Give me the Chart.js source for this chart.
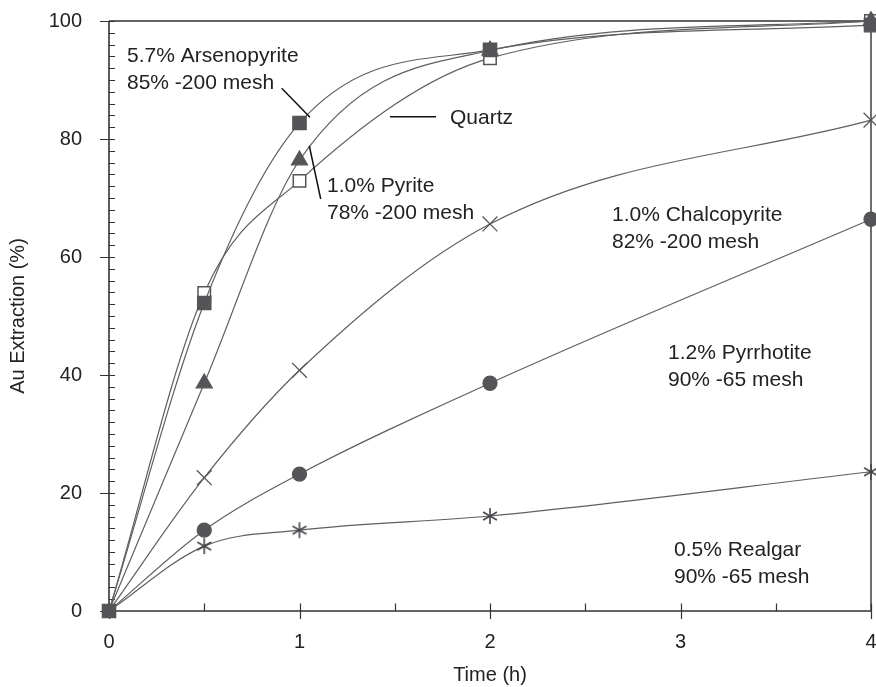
<!DOCTYPE html>
<html>
<head>
<meta charset="utf-8">
<script src="https://cdn.jsdelivr.net/npm/chart.js@4/dist/chart.umd.min.js"></script>
<style>
  html, body { margin: 0; padding: 0; background: #fff; }
  #wrap { width: 876px; height: 687px; }
</style>
</head>
<body>
<div id="wrap"><canvas id="c" width="876" height="687"></canvas></div>
<script>
// Leach times (h) and gold extraction (%) for each sulfide mineral
const times = [0, 0.5, 1, 2, 4];
const arsenopyrite = [0, 52.2, 82.7, 95.1, 99.3];
const quartz = [0, 53.9, 72.9, 93.7, 100];
const pyrite = [0, 38.6, 76.4, 95.0, 100];
const chalcopyrite = [0, 22.6, 40.8, 65.6, 83.2];
const pyrrhotite = [0, 13.7, 23.2, 38.6, 66.4];
const realgar = [0, 11.0, 13.7, 16.1, 23.6];

const xTicks = [0, 1, 2, 3, 4];
const yTicks = [0, 20, 40, 60, 80, 100];

const FONT = '"Liberation Sans", Arial, sans-serif';
const INK = '#222';
const LINE = 'rgb(95,95,98)';
const MARK = 'rgb(85,85,88)';

// six-armed asterisk marker
function asteriskMarker(size) {
  const cv = document.createElement('canvas');
  cv.width = size; cv.height = size;
  const g = cv.getContext('2d');
  const c = size / 2, r = size / 2 - 1;
  g.strokeStyle = 'rgb(70,70,74)'; g.lineWidth = 1.6;
  [90, 30, 150].forEach(a => {
    const t = a * Math.PI / 180;
    g.beginPath();
    g.moveTo(c - r * Math.cos(t), c - r * Math.sin(t));
    g.lineTo(c + r * Math.cos(t), c + r * Math.sin(t));
    g.stroke();
  });
  return cv;
}

const pts = ys => times.map((t, i) => ({ x: t, y: ys[i] }));
const hideAtOrigin = r => ctx => (ctx.raw && ctx.raw.x === 0 ? 0 : r);

function series(label, ys, style, radius, fill, extra) {
  return Object.assign({
    label, data: pts(ys),
    borderColor: LINE, borderWidth: 1.2,
    pointStyle: style, pointRadius: radius,
    pointBackgroundColor: fill, pointBorderColor: MARK, pointBorderWidth: 1.3,
    cubicInterpolationMode: 'monotone', fill: false, clip: false
  }, extra || {});
}

const datasets = [
  series('Arsenopyrite', arsenopyrite, 'rect', 9.4, MARK),
  series('Pyrite', pyrite, 'triangle', 9.2, MARK, { pointRadius: hideAtOrigin(9.2) }),
  series('Quartz', quartz, 'rect', 8.8, '#fff', { pointRadius: hideAtOrigin(8.8), pointBorderWidth: 1.5 }),
  series('Chalcopyrite', chalcopyrite, 'crossRot', 10.5, MARK, { pointRadius: hideAtOrigin(10.5) }),
  series('Pyrrhotite', pyrrhotite, 'circle', 7, MARK, { pointRadius: hideAtOrigin(7) }),
  series('Realgar', realgar, asteriskMarker(18), 8, MARK, { pointRadius: hideAtOrigin(8) })
];

// text labels placed in data units, first-line baseline
const notes = [
  { x: 0.0945, y: 93.1, lines: ['5.7% Arsenopyrite', '85% -200 mesh'] },
  { x: 1.790, y: 82.46, lines: ['Quartz'] },
  { x: 1.1444, y: 71.07, lines: ['1.0% Pyrite', '78% -200 mesh'] },
  { x: 2.6404, y: 66.1, lines: ['1.0% Chalcopyrite', '82% -200 mesh'] },
  { x: 2.9344, y: 42.71, lines: ['1.2% Pyrrhotite', '90% -65 mesh'] },
  { x: 2.9659, y: 9.32, lines: ['0.5% Realgar', '90% -65 mesh'] }
];
const leaders = [
  [0.9066, 88.59, 1.0551, 83.68],
  [1.4751, 83.78, 1.7165, 83.78],
  [1.0514, 78.86, 1.1113, 69.83]
];

const frame = {
  id: 'frame',
  beforeDatasetsDraw(chart) {
    const { ctx, chartArea: a, scales: { x, y } } = chart;
    ctx.save();
    ctx.strokeStyle = '#333';
    ctx.lineWidth = 1.4;
    // box
    ctx.beginPath();
    ctx.moveTo(a.left, a.top); ctx.lineTo(a.right, a.top);
    ctx.moveTo(a.right, a.top); ctx.lineTo(a.right, a.bottom);
    ctx.stroke();
    ctx.lineWidth = 1.6;
    ctx.beginPath();
    ctx.moveTo(a.left, a.top); ctx.lineTo(a.left, a.bottom);
    ctx.moveTo(a.left, a.bottom); ctx.lineTo(a.right, a.bottom);
    ctx.stroke();
    // y ticks: majors cross the axis, minors inside
    ctx.lineWidth = 1.2;
    ctx.beginPath();
    for (let v = 0; v <= 100; v += 2) {
      const py = Math.round(y.getPixelForValue(v)) + 0.5;
      const major = v % 20 === 0;
      ctx.moveTo(a.left - (major ? 9 : 0), py);
      ctx.lineTo(a.left + 6, py);
    }
    // x ticks
    for (let v = 0; v <= 4; v += 0.5) {
      const px = Math.round(x.getPixelForValue(v)) + 0.5;
      const major = Number.isInteger(v);
      ctx.moveTo(px, a.bottom - 7.5);
      ctx.lineTo(px, a.bottom + (major ? 8 : 0));
    }
    ctx.stroke();
    ctx.restore();
  },
  afterDatasetsDraw(chart) {
    const { ctx, scales: { x, y } } = chart;
    ctx.save();
    // leader lines
    ctx.strokeStyle = '#111';
    ctx.lineWidth = 1.5;
    ctx.beginPath();
    leaders.forEach(([x0, y0, x1, y1]) => {
      ctx.moveTo(x.getPixelForValue(x0), y.getPixelForValue(y0));
      ctx.lineTo(x.getPixelForValue(x1), y.getPixelForValue(y1));
    });
    ctx.stroke();
    // labels
    ctx.fillStyle = INK;
    ctx.font = '21px ' + FONT;
    ctx.textAlign = 'left';
    ctx.textBaseline = 'alphabetic';
    notes.forEach(n => {
      const px = x.getPixelForValue(n.x), py = y.getPixelForValue(n.y);
      n.lines.forEach((t, i) => ctx.fillText(t, px, py + i * 27));
    });
    ctx.restore();
  }
};

new Chart(document.getElementById('c'), {
  type: 'line',
  data: { datasets },
  plugins: [frame],
  options: {
    responsive: false,
    animation: false,
    events: [],
    layout: { autoPadding: false, padding: { top: 21, right: 5, left: 0, bottom: 0 } },
    plugins: { legend: { display: false }, tooltip: { enabled: false } },
    scales: {
      x: {
        type: 'linear', min: 0, max: 4,
        afterBuildTicks: s => { s.ticks = xTicks.map(v => ({ value: v })); },
        afterFit: s => { s.height = 76; s.paddingLeft = 0; s.paddingRight = 0; },
        grid: { display: false, drawTicks: false },
        border: { display: false },
        ticks: { padding: 19, color: INK, font: { family: FONT, size: 20 }, maxRotation: 0 },
        title: { display: true, text: 'Time (h)', color: INK, font: { family: FONT, size: 20 }, padding: { top: 0, bottom: 0 } }
      },
      y: {
        type: 'linear', min: 0, max: 100,
        afterBuildTicks: s => { s.ticks = yTicks.map(v => ({ value: v })); },
        afterFit: s => { s.width = 109; s.paddingTop = 0; s.paddingBottom = 0; },
        grid: { display: false, drawTicks: false },
        border: { display: false },
        ticks: { padding: 27, color: INK, font: { family: FONT, size: 20 } },
        title: { display: true, text: 'Au Extraction (%)', color: INK, font: { family: FONT, size: 20 }, padding: { top: 6, bottom: 0 } }
      }
    }
  }
});
</script>
</body>
</html>
